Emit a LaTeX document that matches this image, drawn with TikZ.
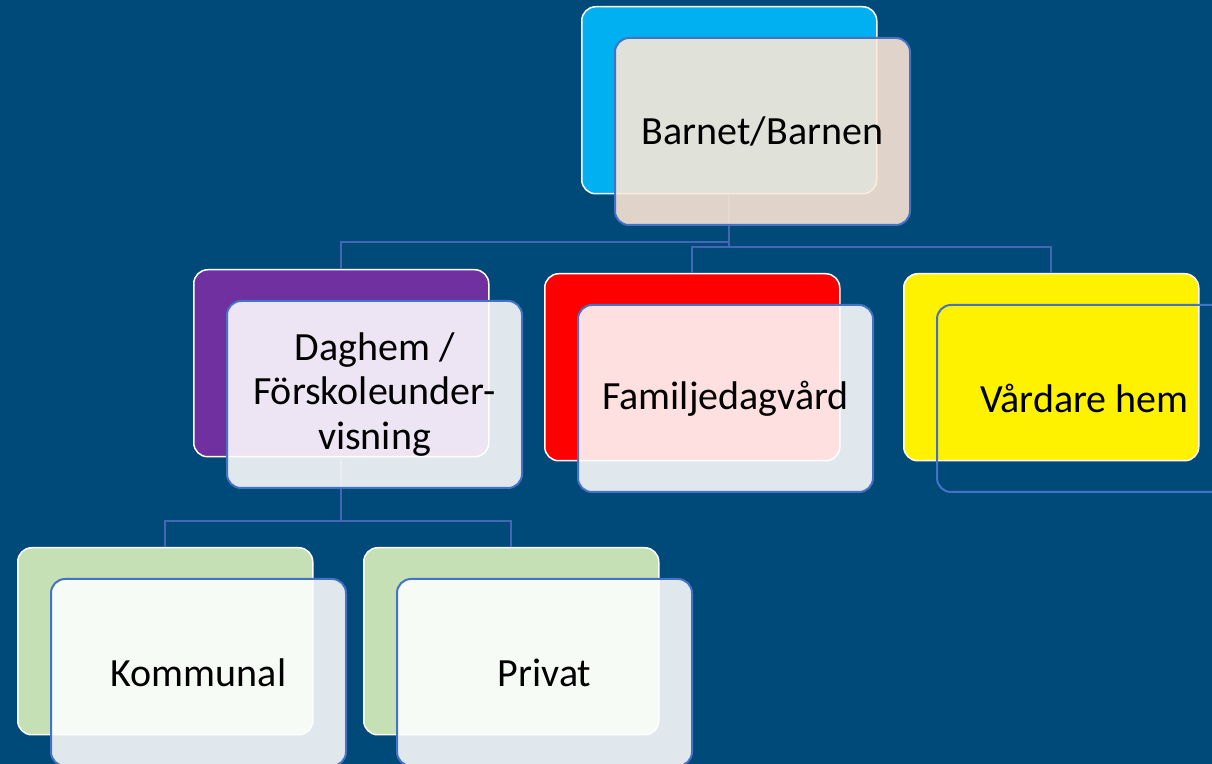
\documentclass[tikz,border=0pt]{standalone}
\usepackage{fontspec}
\setmainfont{Carlito}
\usetikzlibrary{positioning}

\definecolor{slide bg}{RGB}{0,74,122}
\definecolor{front edge}{RGB}{68,114,196}
\definecolor{link line}{RGB}{68,102,180}
\definecolor{top tint}{RGB}{255,232,214}
\definecolor{lvl cyan}{RGB}{0,176,240}
\definecolor{lvl purple}{RGB}{112,48,160}
\definecolor{lvl green}{RGB}{197,224,180}

\begin{document}
\begin{tikzpicture}[x=0.5pt,y=-0.5pt,
  back/.style={draw=white, line width=0.75pt, rounded corners=7pt, minimum width=147.5pt,
    minimum height=93.5pt, inner sep=0pt, anchor=north west},
  front/.style={draw=front edge, line width=1pt, rounded corners=7pt, fill=white, fill opacity=0.88,
    text opacity=1, minimum width=147.5pt, minimum height=93.5pt, inner sep=0pt, align=center,
    font=\fontsize{20}{22.2}\selectfont},
  conn/.style={draw=link line, line width=1pt}]
\useasboundingbox (0,0) rectangle (1212,764);
\clip (0,0) rectangle (1212,764);
\fill[slide bg] (0,0) rectangle (1212,764);

% back cards
\node[back, fill=lvl cyan]   (topb)  at (581,6)   {};
\node[back, fill=lvl purple] (dagb)  at (193,269) {};
\node[back, fill=red]        (famb)  at (544,273) {};
\node[back, fill=yellow]     (vardb) at (903,273) {};
\node[back, fill=lvl green]  (komb)  at (17,547)  {};
\node[back, fill=lvl green]  (privb) at (363,547) {};

% links
\coordinate (busa) at ([yshift=-24pt]topb.south);
\coordinate (busb) at ([yshift=-26.5pt]topb.south);
\coordinate (busc) at ([yshift=-32pt]dagb.south);
\draw[conn] (topb.south) -- (busa) -| (dagb.north);
\draw[conn] (topb.south) -- (busb) -| (famb.north);
\draw[conn] (busb) -| (vardb.north);
\draw[conn] (dagb.south) -- (busc) -| (komb.north);
\draw[conn] (busc) -| (privb.north);

% front cards
\node[front, fill=top tint, below right=15.5pt and 16.5pt of topb.north west] (topf) {Barnet/Barnen};
\node[front, below right=15.5pt and 16.5pt of dagb.north west] (dagf) {Daghem /\\F\"orskoleunder-\\visning};
\node[front, below right=15.5pt and 16.5pt of famb.north west] (famf) {Familjedagv\r{a}rd};
\node[front, fill=none, below right=15.5pt and 16.5pt of vardb.north west] (vardf) {V\r{a}rdare hem};
\node[front, below right=15.5pt and 16.5pt of komb.north west] (komf) {Kommunal};
\node[front, below right=15.5pt and 16.5pt of privb.north west] (privf) {Privat};
\end{tikzpicture}
\end{document}
